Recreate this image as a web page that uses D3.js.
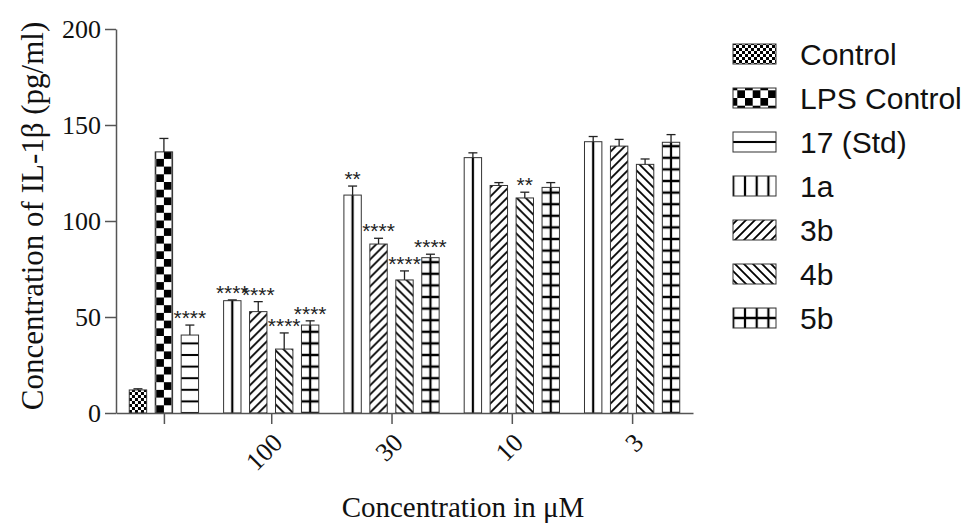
<!DOCTYPE html>
<html>
<head>
<meta charset="utf-8">
<script src="https://cdn.jsdelivr.net/npm/d3@7"></script>
<style>
  body { margin: 0; background: #fff; }
  svg { display: block; }
</style>
</head>
<body>
<div id="chart"></div>
<script>
// groups along the x axis (first one is the control group, no label)
var groups = ["", "100", "30", "10", "3"];
var series = ["Control", "LPS Control", "17 (Std)", "1a", "3b", "4b", "5b"];
var fills  = ["fine", "checker", "hline", "vline", "diagR", "diagL", "grid"];

// which series sit in each group
var groupSeries = [
  ["Control", "LPS Control", "17 (Std)"],
  ["1a", "3b", "4b", "5b"],
  ["1a", "3b", "4b", "5b"],
  ["1a", "3b", "4b", "5b"],
  ["1a", "3b", "4b", "5b"]
];
// means (pg/ml)
var means = [
  [12, 136, 40.6],
  [58.5, 52.8, 33.3, 45.8],
  [113.5, 88, 69.3, 80.9],
  [133, 118.5, 112, 117.5],
  [141.3, 139, 129.5, 141]
];
// upper error (SEM)
var errs = [
  [0.6, 7, 5.2],
  [0.4, 5.2, 8.4, 2.2],
  [4.7, 3, 4.7, 1.8],
  [2.5, 1.5, 3, 2.5],
  [2.7, 3.5, 2.8, 4]
];
// significance marks
var stars = [
  ["", "", "****"],
  ["****", "****", "****", "****"],
  ["**", "****", "****", "****"],
  ["", "", "**", ""],
  ["", "", "", ""]
];
var yTicks = [0, 50, 100, 150, 200];

var W = 970, H = 527;
var plot = {left: 116, right: 693, top: 29, bottom: 413};
var GAP = 0.635, PAD = 0.846, BARW = 0.67;

var svg = d3.select("#chart").append("svg")
  .attr("width", W).attr("height", H);
var defs = svg.append("defs");

// flatten the bars, each with a slot position
var bars = [];
var idx = 0;
groupSeries.forEach(function(list, g) {
  list.forEach(function(s, i) {
    bars.push({g: g, s: s, mean: means[g][i], err: errs[g][i], star: stars[g][i],
               slot: PAD + idx + g * GAP});
    idx++;
  });
});
var nBars = idx;

var x = d3.scaleLinear()
  .domain([0, (nBars - 1) + (groups.length - 1) * GAP + 2 * PAD])
  .range([plot.left, plot.right]);
var y = d3.scaleLinear().domain([0, 200]).range([plot.bottom, plot.top]);

var groupCenters = groups.map(function(g, gi) {
  return d3.mean(bars.filter(function(b) { return b.g === gi; }), function(b) { return b.slot; });
});

// hatch patterns, one per shape so the lines line up with the bar
function makePattern(id, type, ox, oy) {
  var p = defs.append("pattern").attr("id", id)
    .attr("patternUnits", "userSpaceOnUse");
  if (type === "fine") {
    p.attr("x", ox).attr("y", oy).attr("width", 6).attr("height", 6);
    p.append("rect").attr("width", 6).attr("height", 6).attr("fill", "#fff");
    p.append("rect").attr("width", 3).attr("height", 3).attr("fill", "#000");
    p.append("rect").attr("x", 3).attr("y", 3).attr("width", 3).attr("height", 3).attr("fill", "#000");
  } else if (type === "checker") {
    var c = 7.7;
    p.attr("x", ox).attr("y", oy).attr("width", 2 * c).attr("height", 2 * c);
    p.append("rect").attr("width", 2 * c).attr("height", 2 * c).attr("fill", "#fff");
    p.append("rect").attr("width", c).attr("height", c).attr("fill", "#000");
    p.append("rect").attr("x", c).attr("y", c).attr("width", c).attr("height", c).attr("fill", "#000");
  } else if (type === "hline") {
    p.attr("x", 0).attr("y", oy).attr("width", 10).attr("height", 11.6);
    p.append("rect").attr("width", 10).attr("height", 11.6).attr("fill", "#fff");
    p.append("rect").attr("y", -1).attr("width", 10).attr("height", 2).attr("fill", "#000");
    p.append("rect").attr("y", 10.6).attr("width", 10).attr("height", 2).attr("fill", "#000");
  } else if (type === "vline") {
    p.attr("x", ox).attr("y", 0).attr("width", 11.7).attr("height", 10);
    p.append("rect").attr("width", 11.7).attr("height", 10).attr("fill", "#fff");
    p.append("rect").attr("x", -1.1).attr("width", 2.2).attr("height", 10).attr("fill", "#000");
    p.append("rect").attr("x", 10.6).attr("width", 2.2).attr("height", 10).attr("fill", "#000");
  } else if (type === "grid") {
    p.attr("x", ox).attr("y", oy).attr("width", 11.7).attr("height", 11.6);
    p.append("rect").attr("width", 11.7).attr("height", 11.6).attr("fill", "#fff");
    p.append("path").attr("d", "M0,0V11.6M11.7,0V11.6M0,0H11.7M0,11.6H11.7")
      .attr("stroke", "#000").attr("stroke-width", 2.2);
  } else {
    var s = 9;
    p.attr("x", ox).attr("y", oy).attr("width", s).attr("height", s);
    p.append("rect").attr("width", s).attr("height", s).attr("fill", "#fff");
    var d = type === "diagR"
      ? "M-2,2L2,-2M0," + s + "L" + s + ",0M" + (s - 2) + "," + (s + 2) + "L" + (s + 2) + "," + (s - 2)
      : "M-2," + (s - 2) + "L2," + (s + 2) + "M0,0L" + s + "," + s + "M" + (s - 2) + ",-2L" + (s + 2) + ",2";
    p.append("path").attr("d", d).attr("stroke", "#000").attr("stroke-width", 1.8);
  }
  return "url(#" + id + ")";
}

var bw = x(BARW) - x(0);

// y axis
var yAxis = svg.append("g")
  .attr("transform", "translate(" + plot.left + ",0)")
  .call(d3.axisLeft(y).tickValues(yTicks).tickSize(11).tickSizeOuter(0).tickPadding(4));
yAxis.select(".domain").attr("stroke", "#555").attr("stroke-width", 1.5);
yAxis.selectAll(".tick line").attr("stroke", "#555").attr("stroke-width", 1.5);
yAxis.selectAll("text")
  .style("font-family", "'Liberation Serif', 'Times New Roman', serif")
  .style("font-size", "26px").attr("fill", "#111");

// bars
var barG = svg.append("g");
bars.forEach(function(b, i) {
  var cx = x(b.slot);
  var type = fills[series.indexOf(b.s)];
  var fill = makePattern("pb" + i, type, cx, plot.bottom);
  barG.append("rect")
    .attr("x", cx - bw / 2)
    .attr("y", y(b.mean))
    .attr("width", bw)
    .attr("height", plot.bottom - y(b.mean))
    .attr("fill", fill)
    .attr("stroke", "#333")
    .attr("stroke-width", 1);
  // upper error bar
  var top = y(b.mean + b.err);
  barG.append("line")
    .attr("x1", cx).attr("x2", cx)
    .attr("y1", y(b.mean)).attr("y2", top)
    .attr("stroke", "#222").attr("stroke-width", 1.3);
  barG.append("line")
    .attr("x1", cx - 4.5).attr("x2", cx + 4.5)
    .attr("y1", top).attr("y2", top)
    .attr("stroke", "#222").attr("stroke-width", 1.3);
  if (b.star) {
    barG.append("text")
      .attr("x", cx).attr("y", top)
      .attr("text-anchor", "middle")
      .style("font-family", "'Liberation Sans', Arial, sans-serif")
      .style("font-size", "21px")
      .attr("fill", "#222")
      .text(b.star);
  }
});

// x axis
var xAxis = svg.append("g")
  .attr("transform", "translate(0," + plot.bottom + ")")
  .call(d3.axisBottom(x).tickValues(groupCenters).tickSize(11).tickSizeOuter(0)
    .tickFormat(function(d, i) { return groups[i]; }));
xAxis.select(".domain").attr("stroke", "#555").attr("stroke-width", 1.5);
xAxis.selectAll(".tick line").attr("stroke", "#555").attr("stroke-width", 1.5);
xAxis.selectAll("text")
  .style("font-family", "'Liberation Serif', 'Times New Roman', serif")
  .style("font-size", "26px").attr("fill", "#111")
  .attr("text-anchor", "end")
  .attr("dy", "0.35em")
  .attr("transform", "translate(-4,15) rotate(-45)");

// axis titles
svg.append("text")
  .attr("transform", "translate(43,216) rotate(-90)")
  .attr("text-anchor", "middle")
  .style("font-family", "'Liberation Serif', 'Times New Roman', serif")
  .style("font-size", "31px").attr("fill", "#111")
  .text("Concentration of IL-1\u03b2 (pg/ml)");

svg.append("text")
  .attr("x", 463).attr("y", 517)
  .attr("text-anchor", "middle")
  .style("font-family", "'Liberation Serif', 'Times New Roman', serif")
  .style("font-size", "29px").attr("fill", "#111")
  .text("Concentration in \u03bcM");

// legend
var leg = svg.append("g");
series.forEach(function(s, i) {
  var cy = 54 + i * 44;
  var fill = makePattern("pl" + i, fills[i], 745, cy);
  leg.append("rect")
    .attr("x", 733).attr("y", cy - 10)
    .attr("width", 43).attr("height", 20)
    .attr("fill", fill)
    .attr("stroke", "#333").attr("stroke-width", 1);
  leg.append("text")
    .attr("x", 800).attr("y", cy)
    .attr("dy", "0.36em")
    .style("font-family", "'Liberation Sans', Arial, sans-serif")
    .style("font-size", "30px").attr("fill", "#111")
    .text(s);
});
</script>
</body>
</html>
